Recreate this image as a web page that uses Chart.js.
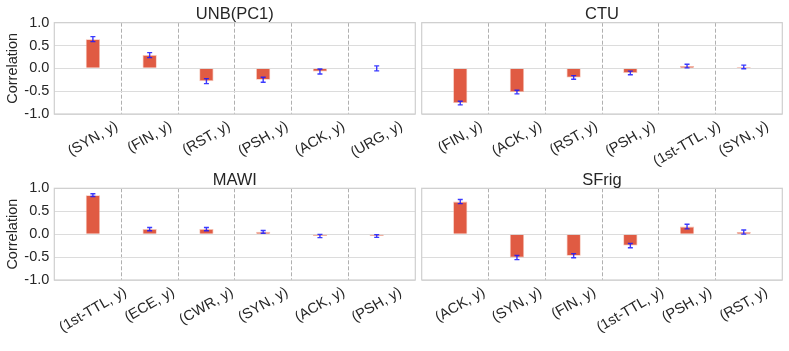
<!DOCTYPE html>
<html><head><meta charset="utf-8">
<script src="https://cdn.jsdelivr.net/npm/chart.js@4/dist/chart.umd.min.js"></script>
<style>
html,body{margin:0;padding:0;background:#fff;}
#wrap{position:relative;width:789px;height:351px;overflow:hidden;}
#wrap canvas{position:absolute;left:0;top:0;}
</style></head><body>
<div id="wrap">
<canvas id="c0" width="789" height="351"></canvas>
<canvas id="c1" width="789" height="351"></canvas>
<canvas id="c2" width="789" height="351"></canvas>
<canvas id="c3" width="789" height="351"></canvas>
</div>
<script>
// ---- data ----
const TITLES = ['UNB(PC1)', 'CTU', 'MAWI', 'SFrig'];

const UNB_LABELS = ['(SYN, y)', '(FIN, y)', '(RST, y)', '(PSH, y)', '(ACK, y)', '(URG, y)'];
const UNB_VALUES = [0.64, 0.29, -0.28, -0.25, -0.07, 0.0];
const UNB_ERRORS = [0.055, 0.055, 0.055, 0.055, 0.055, 0.055];

const CTU_LABELS = ['(FIN, y)', '(ACK, y)', '(RST, y)', '(PSH, y)', '(1st-TTL, y)', '(SYN, y)'];
const CTU_VALUES = [-0.76, -0.52, -0.20, -0.10, 0.05, 0.03];
const CTU_ERRORS = [0.04, 0.04, 0.04, 0.04, 0.04, 0.04];

const MAWI_LABELS = ['(1st-TTL, y)', '(ECE, y)', '(CWR, y)', '(SYN, y)', '(ACK, y)', '(PSH, y)'];
const MAWI_VALUES = [0.85, 0.11, 0.11, 0.05, -0.04, -0.04];
const MAWI_ERRORS = [0.03, 0.035, 0.035, 0.03, 0.035, 0.03];

const SFRIG_LABELS = ['(ACK, y)', '(SYN, y)', '(FIN, y)', '(1st-TTL, y)', '(PSH, y)', '(RST, y)'];
const SFRIG_VALUES = [0.71, -0.51, -0.47, -0.25, 0.165, 0.045];
const SFRIG_ERRORS = [0.045, 0.045, 0.045, 0.045, 0.05, 0.045];

const Y_TICK_STEP = 0.5;
const SEPARATOR_TICKS = [0.5, 1.5, 2.5, 3.5, 4.5];

// ---- layout / style ----
const FAM = '"Liberation Sans", Arial, Helvetica, sans-serif';
const FS = 14.5;
const TEXT = '#262626';
const PANELS = [
  {title: TITLES[0], labels: UNB_LABELS, values: UNB_VALUES, errors: UNB_ERRORS, left: 54.3, right: 415.3, top: 22.7, bottom: 114, showY: true},
  {title: TITLES[1], labels: CTU_LABELS, values: CTU_VALUES, errors: CTU_ERRORS, left: 421.7, right: 782.3, top: 22.7, bottom: 114, showY: false},
  {title: TITLES[2], labels: MAWI_LABELS, values: MAWI_VALUES, errors: MAWI_ERRORS, left: 54.3, right: 415.3, top: 188.3, bottom: 280, showY: true},
  {title: TITLES[3], labels: SFRIG_LABELS, values: SFRIG_VALUES, errors: SFRIG_ERRORS, left: 421.7, right: 782.3, top: 188.3, bottom: 280, showY: false}
];
const W = 789, H = 351;

const framePlugin = {
  id: 'frame',
  beforeDatasetsDraw(chart) {
    const {ctx, chartArea: a} = chart;
    ctx.save();
    ctx.strokeStyle = '#cfcfcf';
    ctx.lineWidth = 1.2;
    ctx.strokeRect(a.left, a.top, a.right - a.left, a.bottom - a.top);
    ctx.restore();
  }
};

const errorPlugin = {
  id: 'errbars',
  afterDatasetsDraw(chart) {
    const {ctx} = chart;
    const ys = chart.scales.y;
    const meta = chart.getDatasetMeta(0);
    const ds = chart.data.datasets[0];
    ctx.save();
    ctx.strokeStyle = 'rgba(25,25,255,0.85)';
    ctx.lineWidth = 1.4;
    meta.data.forEach((bar, i) => {
      const v = ds.data[i].y, e = ds.errors[i];
      const x = bar.x;
      const y1 = ys.getPixelForValue(v + e), y2 = ys.getPixelForValue(v - e);
      ctx.beginPath();
      ctx.moveTo(x, y1); ctx.lineTo(x, y2);
      ctx.moveTo(x - 2.5, y1); ctx.lineTo(x + 2.5, y1);
      ctx.moveTo(x - 2.5, y2); ctx.lineTo(x + 2.5, y2);
      ctx.stroke();
    });
    ctx.restore();
  }
};

const textPlugin = {
  id: 'texts',
  afterDraw(chart) {
    const {ctx, chartArea: a} = chart;
    const xs = chart.scales.x;
    const ds = chart.data.datasets[0];
    ctx.save();
    ctx.fillStyle = TEXT;
    // title
    ctx.font = `16.5px ${FAM}`;
    ctx.textAlign = 'center';
    ctx.textBaseline = 'alphabetic';
    ctx.fillText(chart.options.plugins.texts.title, (a.left + a.right) / 2, a.top - 3.6);
    // rotated x labels, centred on bars
    ctx.font = `${FS}px ${FAM}`;
    ctx.textBaseline = 'middle';
    chart.data.labels.forEach((lab, i) => {
      const x = xs.getPixelForValue(ds.data[i].x);
      const w = ctx.measureText(lab).width;
      const h = FS * 1.15;
      const cy = a.bottom + 4 + (0.5 * w + 0.866 * h) / 2;
      ctx.save();
      ctx.translate(x, cy);
      ctx.rotate(-Math.PI / 6);
      ctx.fillText(lab, 0, 0);
      ctx.restore();
    });
    ctx.restore();
  }
};

PANELS.forEach((p, k) => {
  const yw = p.showY ? p.left : 0;
  const padLeft = p.showY ? 0 : p.left;
  new Chart(document.getElementById('c' + k), {
    type: 'bar',
    data: {
      labels: p.labels,
      datasets: [{
        data: p.values.map((v, i) => ({x: i, y: v})),
        errors: p.errors,
        backgroundColor: '#e05b43',
        borderColor: 'rgba(240,160,140,0.7)',
        borderWidth: 0.8,
        barPercentage: 0.25,
        categoryPercentage: 1.0
      }]
    },
    options: {
      responsive: false,
      animation: false,
      devicePixelRatio: 1,
      layout: {padding: {left: padLeft, right: W - p.right, top: p.top, bottom: H - p.bottom}},
      plugins: {legend: {display: false}, title: {display: false}, tooltip: {enabled: false}, texts: {title: p.title}},
      scales: {
        x: {
          type: 'linear', min: -0.68, max: 5.68, offset: false,
          afterBuildTicks: s => { s.ticks = SEPARATOR_TICKS.map(v => ({value: v})); },
          ticks: {display: false},
          grid: {offset: false, color: '#b0b0b0', lineWidth: 1, drawTicks: false},
          border: {display: false, dash: [4, 2]},
          afterFit: s => { s.height = 0; }
        },
        y: {
          min: -1, max: 1,
          ticks: {stepSize: Y_TICK_STEP, display: p.showY, padding: 5, color: TEXT,
                  font: {size: FS, family: FAM}, callback: v => v.toFixed(1)},
          grid: {color: '#dcdcdc', lineWidth: 1, drawTicks: false},
          border: {display: false},
          title: {display: p.showY, text: 'Correlation', color: TEXT, font: {size: FS, family: FAM}, padding: {top: 4, bottom: 4}},
          afterFit: s => { s.width = yw; }
        }
      }
    },
    plugins: [framePlugin, errorPlugin, textPlugin]
  });
});
</script>
</body></html>
